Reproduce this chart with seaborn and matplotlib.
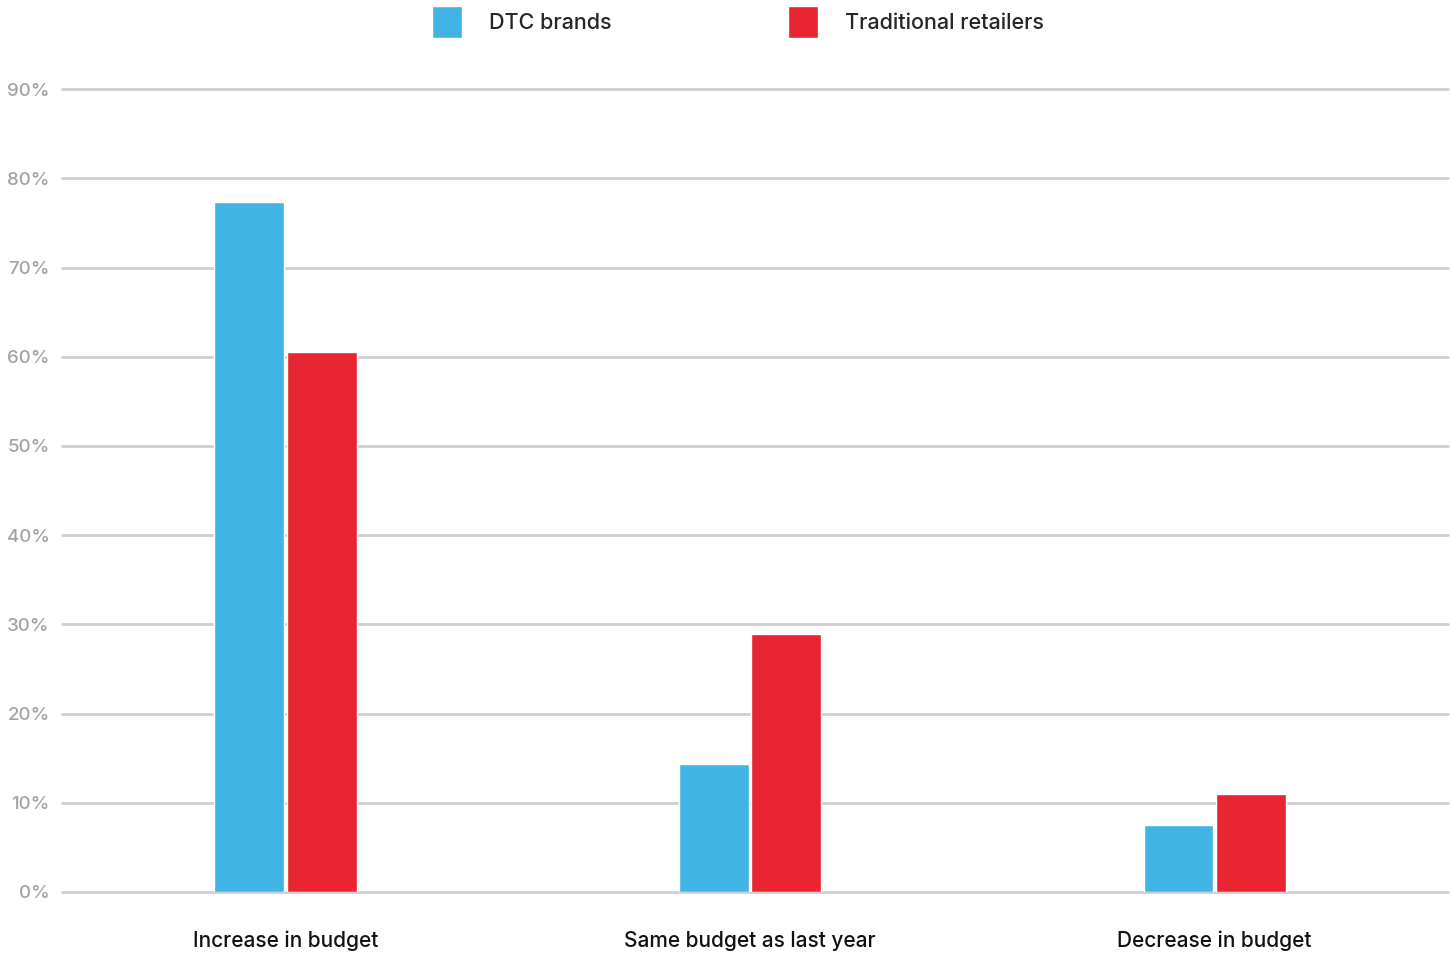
import pandas as pd
import seaborn as sns
import matplotlib.pyplot as plt

# Datos del grafico (en %)
categorias = ["Increase in budget", "Same budget as last year", "Decrease in budget"]
dtc_brands = [77.4, 14.4, 7.5]
traditional = [60.5, 28.9, 11.0]
series = ["DTC brands", "Traditional retailers"]
colores = ["#41B4E6", "#E82530"]
yticks = [0, 10, 20, 30, 40, 50, 60, 70, 80, 90]

df = pd.DataFrame({
    "categoria": categorias * 2,
    "serie": [series[0]] * 3 + [series[1]] * 3,
    "valor": dtc_brands + traditional,
})

sns.set_style("white")
plt.rcParams['font.family'] = ['Inter', 'DejaVu Sans']
plt.rcParams['font.weight'] = 'medium'

fig = plt.figure(figsize=(14.53, 9.55), dpi=100)
ax = fig.add_axes([0.0427, 0.066, 0.954, 0.850])

sns.barplot(data=df, x="categoria", y="valor", hue="serie", order=categorias,
            hue_order=series, palette=colores, width=0.312, gap=0.04,
            saturation=1, ax=ax, zorder=3, legend=True)

ax.set_xlim(-0.481, 2.503)
ax.set_ylim(0, 91)
ax.set_yticks(yticks)
ax.set_yticklabels([f"{v}%" for v in yticks])
ax.yaxis.grid(True, color="#cfcfcf", linewidth=2.0, zorder=0)
for gl in ax.get_ygridlines():
    gl.set_clip_on(False)
ax.set_axisbelow(True)
for s in ax.spines.values():
    s.set_visible(False)
ax.set_xlabel("")
ax.set_ylabel("")
ax.tick_params(axis="y", length=0, pad=9, labelsize=13.5, labelcolor="#a3a3a6")
ax.tick_params(axis="x", length=0, pad=28, labelsize=15, labelcolor="#111111")

# leyenda arriba, centrada
handles, labels = ax.get_legend_handles_labels()
ax.get_legend().remove()
fig.legend(handles, labels, loc="center", bbox_to_anchor=(0.508, 0.977), ncol=2,
           frameon=False, fontsize=15.5, handlelength=1.4, handleheight=1.85,
           handletextpad=1.25, columnspacing=8.2)

fig.savefig("out.png", dpi=100)
